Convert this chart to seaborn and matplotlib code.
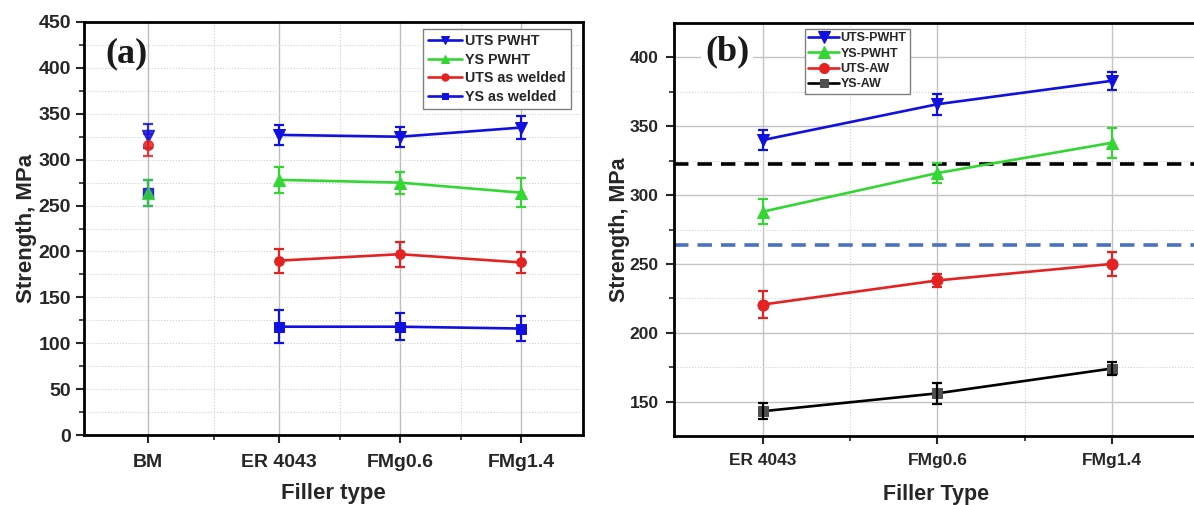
import matplotlib
matplotlib.use("Agg")
import matplotlib.pyplot as plt
from matplotlib.ticker import MultipleLocator, FixedLocator
import seaborn as sns

# ---------------- data: panel (a) ----------------
cats_a = ["BM", "ER 4043", "FMg0.6", "FMg1.4"]
weld_cats_a = ["ER 4043", "FMg0.6", "FMg1.4"]
uts_pwht_a = [327, 325, 335]
uts_pwht_a_err = [11, 11, 13]
ys_pwht_a = [278, 275, 264]
ys_pwht_a_err = [14.5, 12, 15.5]
uts_aw_a = [190, 197, 188]
uts_aw_a_err = [13, 13.5, 11.5]
ys_aw_a = [118, 118, 116]
ys_aw_a_err = [18, 14.5, 14]
bm_uts_pwht = 326
bm_uts_pwht_err = 13
bm_ys_pwht = 264
bm_ys_pwht_err = 14
bm_uts_aw = 316
bm_uts_aw_err = 11.5
bm_ys_aw = 264
bm_ys_aw_err = 14

# ---------------- data: panel (b) ----------------
cats_b = ["ER 4043", "FMg0.6", "FMg1.4"]
uts_pwht_b = [340, 366, 383]
uts_pwht_b_err = [7.5, 7.7, 6.7]
ys_pwht_b = [288, 316, 338]
ys_pwht_b_err = [9, 7, 11]
uts_aw_b = [220.5, 238, 250]
uts_aw_b_err = [10, 4.5, 8.5]
ys_aw_b = [143, 156, 174]
ys_aw_b_err = [6, 7.5, 4.7]
bm_uts_ref = 322.5
bm_ys_ref = 264

# ---------------- style ----------------
sns.set_theme(style="white")
plt.rcParams["font.family"] = ["Liberation Sans", "DejaVu Sans"]
plt.rcParams["font.weight"] = "bold"
plt.rcParams["axes.labelweight"] = "bold"

BLUE = "#1010E0"
GREEN = "#33D633"
RED = "#E52222"
BLACK = "#000000"
GREY = "#505050"
DASHBLUE = "#4A72BE"

fig = plt.figure(figsize=(11.94, 5.05), dpi=100)
axA = fig.add_axes([84 / 1194, 1 - 435 / 505, 499 / 1194, 413 / 505])
axB = fig.add_axes([674 / 1194, 1 - 436 / 505, 525 / 1194, 413 / 505])

pos_a = {"BM": 0.92, "ER 4043": 2, "FMg0.6": 3, "FMg1.4": 4}
pos_b = {"ER 4043": 1, "FMg0.6": 2, "FMg1.4": 3}


def draw_series(ax, xs, ys, errs, color, marker, label, mfc=None, ms=8):
    sns.lineplot(x=xs, y=ys, ax=ax, color=color, marker=marker, markersize=ms,
                 markerfacecolor=mfc or color, markeredgecolor=mfc or color,
                 linewidth=1.9, label=label, zorder=3)
    ax.errorbar(xs, ys, yerr=errs, fmt="none", ecolor=color, elinewidth=1.6,
                capsize=3.8, capthick=1.6, zorder=3)


# ---------------- panel (a) ----------------
xa = [pos_a[c] for c in weld_cats_a]
draw_series(axA, xa, uts_pwht_a, uts_pwht_a_err, BLUE, "v", "UTS PWHT")
draw_series(axA, xa, ys_pwht_a, ys_pwht_a_err, GREEN, "^", "YS PWHT")
draw_series(axA, xa, uts_aw_a, uts_aw_a_err, RED, "o", "UTS as welded", ms=7)
draw_series(axA, xa, ys_aw_a, ys_aw_a_err, BLUE, "s", "YS as welded", ms=6.5)

xbm = pos_a["BM"]
for val, err, col, mk, ms in [(bm_ys_aw, bm_ys_aw_err, BLUE, "s", 6.5),
                               (bm_ys_pwht, bm_ys_pwht_err, GREEN, "^", 8),
                               (bm_uts_pwht, bm_uts_pwht_err, BLUE, "v", 8),
                               (bm_uts_aw, bm_uts_aw_err, RED, "o", 7)]:
    axA.errorbar([xbm], [val], yerr=[err], fmt=mk, color=col, ms=ms, mec=col,
                 elinewidth=1.6, capsize=3.8, capthick=1.6, zorder=3, alpha=0.85)

axA.set_xlim(0.39, 4.51)
axA.set_ylim(0, 450)
axA.xaxis.set_major_locator(FixedLocator([pos_a[c] for c in cats_a]))
axA.set_xticklabels(cats_a)
axA.xaxis.set_minor_locator(FixedLocator([1.46, 2.5, 3.5]))
axA.yaxis.set_major_locator(MultipleLocator(50))
axA.yaxis.set_minor_locator(MultipleLocator(25))
axA.grid(False)
axA.grid(axis="x", which="major", color="#BDBDBD", linewidth=1.0, linestyle="-", zorder=0)
axA.grid(axis="x", which="minor", color="#CFCFCF", linewidth=0.8, linestyle=":", zorder=0)
axA.grid(axis="y", which="both", color="#CFCFCF", linewidth=0.8, linestyle=":", zorder=0)
axA.set_xlabel("Filler type", fontsize=16, fontweight="bold", labelpad=8)
axA.set_ylabel("Strength, MPa", fontsize=16, fontweight="bold", labelpad=1)
axA.tick_params(axis="x", which="major", pad=8)
axA.tick_params(axis="both", which="major", labelsize=14, length=6, width=1.5,
                direction="out", left=True, bottom=True)
axA.tick_params(axis="both", which="minor", length=3.5, width=1.2, direction="out",
                left=True, bottom=True)
for lab in axA.get_xticklabels() + axA.get_yticklabels():
    lab.set_fontweight("bold")
for sp in axA.spines.values():
    sp.set_linewidth(2.0)
    sp.set_color("black")
legA = axA.legend(loc="upper left", bbox_to_anchor=(0.679, 0.983), borderaxespad=0,
                  fontsize=10.3, handlelength=2.4, labelspacing=0.33, handletextpad=0.2,
                  fancybox=False, frameon=True, edgecolor="#808080", framealpha=1,
                  borderpad=0.35, markerscale=0.75)
legA.get_frame().set_linewidth(1.0)
for t in legA.get_texts():
    t.set_fontweight("bold")
axA.text(0.085, 0.922, "(a)", transform=axA.transAxes, fontsize=26, fontweight="bold",
         family=["Liberation Serif", "DejaVu Serif"], ha="center", va="center",
         color="#1a1a1a")

# ---------------- panel (b) ----------------
xb = [pos_b[c] for c in cats_b]
axB.axhline(bm_uts_ref, color=BLACK, linestyle=(0, (4, 2.5)), linewidth=2.6, zorder=2)
axB.axhline(bm_ys_ref, color=DASHBLUE, linestyle=(0, (4, 2.5)), linewidth=2.6, zorder=2)
draw_series(axB, xb, uts_pwht_b, uts_pwht_b_err, BLUE, "v", "UTS-PWHT", ms=9)
draw_series(axB, xb, ys_pwht_b, ys_pwht_b_err, GREEN, "^", "YS-PWHT", ms=9)
draw_series(axB, xb, uts_aw_b, uts_aw_b_err, RED, "o", "UTS-AW", ms=8)
draw_series(axB, xb, ys_aw_b, ys_aw_b_err, BLACK, "s", "YS-AW", mfc=GREY, ms=7)

axB.set_xlim(0.49, 3.5)
axB.set_ylim(125, 425)
axB.xaxis.set_major_locator(FixedLocator(xb))
axB.set_xticklabels(cats_b)
axB.xaxis.set_minor_locator(FixedLocator([1.5, 2.5]))
axB.yaxis.set_major_locator(FixedLocator([150, 200, 250, 300, 350, 400]))
axB.yaxis.set_minor_locator(FixedLocator([175, 225, 275, 325, 375]))
axB.grid(False)
axB.grid(axis="both", which="major", color="#C4C4C4", linewidth=1.0, linestyle="-", zorder=0)
axB.grid(axis="both", which="minor", color="#D0D0D0", linewidth=0.8, linestyle=":", zorder=0)
axB.set_xlabel("Filler Type", fontsize=15.5, fontweight="bold", labelpad=12)
axB.set_ylabel("Strength, MPa", fontsize=15.5, fontweight="bold", labelpad=0)
axB.tick_params(axis="x", which="major", pad=6)
axB.tick_params(axis="y", which="major", pad=5)
axB.tick_params(axis="both", which="major", labelsize=12.5, length=6, width=1.5,
                direction="out", left=True, bottom=True)
axB.tick_params(axis="both", which="minor", length=3.5, width=1.2, direction="out",
                left=True, bottom=True)
for lab in axB.get_xticklabels() + axB.get_yticklabels():
    lab.set_fontweight("bold")
for sp in axB.spines.values():
    sp.set_linewidth(2.0)
    sp.set_color("black")
legB = axB.legend(loc="upper left", bbox_to_anchor=(0.2495, 0.985), borderaxespad=0,
                  fontsize=9, handlelength=2.5, labelspacing=0.27, handletextpad=0.1,
                  fancybox=False, frameon=True, edgecolor="#808080", framealpha=1,
                  borderpad=0.25, markerscale=0.9)
legB.get_frame().set_linewidth(1.0)
for t in legB.get_texts():
    t.set_fontweight("bold")
axB.text(0.101, 0.93, "(b)", transform=axB.transAxes, fontsize=26, fontweight="bold",
         family=["Liberation Serif", "DejaVu Serif"], ha="center", va="center",
         color="#1a1a1a", bbox=dict(facecolor="white", edgecolor="none", pad=3), zorder=5)

fig.savefig("out.png", dpi=100)
